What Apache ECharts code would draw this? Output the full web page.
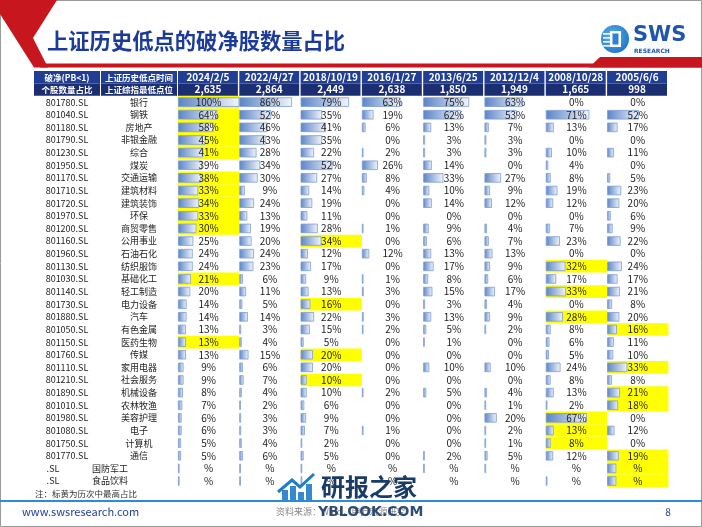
<!DOCTYPE html>
<html><head><meta charset="utf-8">
<script src="https://cdn.jsdelivr.net/npm/echarts@6/dist/echarts.min.js"></script>
<style>html,body{margin:0;padding:0;background:#fff}#c{width:702px;height:527px}</style>
</head><body><div id="c"></div><script>
// ---------- data ----------
const dates = ['2024/2/5','2022/4/27','2018/10/19','2016/1/27','2013/6/25','2012/12/4','2008/10/28','2005/6/6'];
const lowPoints = ['2,635','2,864','2,449','2,638','1,850','1,949','1,665','998'];
const codes = ['801780.SL','801040.SL','801180.SL','801790.SL','801230.SL','801950.SL','801170.SL','801710.SL','801720.SL','801970.SL','801200.SL','801160.SL','801960.SL','801130.SL','801030.SL','801140.SL','801730.SL','801880.SL','801050.SL','801150.SL','801760.SL','801110.SL','801210.SL','801890.SL','801010.SL','801980.SL','801080.SL','801750.SL','801770.SL','.SL','.SL'];
const names = ['银行','钢铁','房地产','非银金融','综合','煤炭','交通运输','建筑材料','建筑装饰','环保','商贸零售','公用事业','石油石化','纺织服饰','基础化工','轻工制造','电力设备','汽车','有色金属','医药生物','传媒','家用电器','社会服务','机械设备','农林牧渔','美容护理','电子','计算机','通信','国防军工','食品饮料'];
// rows whose value text is shown only as "%"
const blankRows = ['国防军工','食品饮料'];
const c20240205 = [100,64,58,45,41,39,38,33,34,33,30,25,24,24,21,20,14,14,13,13,13,9,9,8,7,6,6,5,5,2,2];
const c20220427 = [86,52,46,43,28,34,30,9,24,13,19,20,24,23,6,11,5,14,3,4,15,6,7,4,2,3,3,4,6,2,2];
const c20181019 = [79,35,41,35,22,52,27,14,19,11,28,34,12,17,9,13,16,22,15,5,20,20,10,10,6,9,7,2,5,2,2];
const c20160127 = [63,19,6,0,2,26,8,4,0,0,1,0,12,0,1,3,0,3,2,0,0,0,0,2,0,0,1,0,0,0,0];
const c20130625 = [75,62,13,3,3,14,33,10,14,0,9,6,13,17,8,15,3,13,5,1,0,10,0,5,0,0,0,0,2,2,0];
const c20121204 = [63,53,7,3,3,0,27,9,12,0,4,7,13,9,6,17,4,9,2,0,0,10,0,4,1,20,2,1,5,2,0];
const c20081028 = [0,71,13,0,10,4,8,19,12,0,7,23,0,32,17,33,0,28,8,6,5,24,8,13,2,67,13,8,12,0,2];
const c20050606 = [0,52,17,0,11,0,5,23,20,6,9,22,0,24,17,21,8,20,16,11,10,33,8,21,18,0,12,0,19,15,15];
// column index (0..7) highlighted in yellow for each row, -1 = none
const highlightCol = [0,0,0,0,0,-1,0,0,0,0,0,2,-1,6,0,6,2,6,7,0,2,7,2,7,7,6,6,6,7,7,7];
const titleText = '上证历史低点的破净股数量占比';
const noteText = '注：标黄为历次中最高占比';

// ---------- layout ----------
const cols = [c20240205,c20220427,c20181019,c20160127,c20130625,c20121204,c20081028,c20050606];
const FONT = '"Noto Sans CJK SC","Noto Sans",sans-serif';
const TOP = 95.8, ROWH = 12.63, N = names.length, GH = ROWH * N;
const X0 = 178, CW = 61.3;
const chart = echarts.init(document.getElementById('c'), null, {renderer:'canvas', width:702, height:527});
const grids = [], xAxes = [], yAxes = [], series = [];

cols.forEach((vals, k) => {
  grids.push({left: X0 + k*CW, top: TOP, width: CW, height: GH, containLabel:false, outerBoundsMode:'none'});
  xAxes.push({type:'value', gridIndex:k, min:0, max:100, show:false});
  yAxes.push({type:'category', gridIndex:k, data:names, inverse:true, show:false});
  yAxes.push({type:'category', gridIndex:k, data:names, inverse:true, show:false});
  series.push({type:'bar', xAxisIndex:k, yAxisIndex:2*k, barWidth:'100%', barGap:'-100%', silent:true, z:1,
    itemStyle:{color:'#FFFF00'}, data: highlightCol.map(h => h === k ? 100 : '-')});
  series.push({type:'bar', xAxisIndex:k, yAxisIndex:2*k+1, barWidth:9.5, barMinHeight:1.6, silent:true, z:2,
    itemStyle:{color:new echarts.graphic.LinearGradient(0,0,1,0,[{offset:0,color:'#5A84C7'},{offset:1,color:'#F3F6FC'}]),
      borderColor:'#7E9DD4', borderWidth:0.8},
    data: vals.map(v => v > 0 ? v : '-')});
  series.push({type:'bar', xAxisIndex:k, yAxisIndex:2*k, barWidth:'100%', barGap:'-100%', silent:true, z:3,
    itemStyle:{color:'rgba(0,0,0,0)'},
    label:{show:true, position:'inside', color:'#222', fontSize:10, fontFamily:FONT,
      formatter: p => blankRows.includes(names[p.dataIndex]) ? '%' : vals[p.dataIndex] + '%'},
    data: names.map(() => 100)});
});
// row label axes (codes, names) on first grid
yAxes.push({type:'category', gridIndex:0, data:names, inverse:true, position:'left',
  axisLine:{show:false}, axisTick:{show:false}, splitLine:{show:false},
  axisLabel:{show:true, interval:0, align:'center', margin:111, color:'#222', fontSize:9, fontFamily:FONT,
    formatter:(v,i) => blankRows.includes(v) ? '{s|' + codes[i] + '}' : codes[i],
    rich:{s:{padding:[0,28,0,0], fontSize:9, fontFamily:FONT, color:'#222'}}}});
yAxes.push({type:'category', gridIndex:0, data:names, inverse:true, position:'left',
  axisLine:{show:false}, axisTick:{show:false}, splitLine:{show:false},
  axisLabel:{show:true, interval:0, align:'center', margin:39, color:'#222', fontSize:9, fontFamily:FONT,
    formatter:(v,i) => blankRows.includes(v) ? '{s|' + v + '}' : v,
    rich:{s:{padding:[0,58,0,0], fontSize:9, fontFamily:FONT, color:'#222'}}}});

// ---------- decorations / header ----------
const g = [];
g.push({type:'rect', shape:{x:0.5,y:0.5,width:701,height:526}, style:{fill:'none', stroke:'#9a9a9a', lineWidth:1}, z:0});
g.push({type:'polygon', shape:{points:[[0,0],[57,0],[33,38],[48,67.5],[34,67.5],[14,36],[0,14]]}, style:{fill:'#C8161E'}, z:5});
g.push({type:'rect', shape:{x:40,y:63.5,width:662,height:4}, style:{fill:'#C8161E'}, z:5});
g.push({type:'polygon', shape:{points:[[589,67.5],[600,57],[702,57],[702,67.5]]}, style:{fill:'#C8161E'}, z:5});
g.push({type:'text', style:{text:titleText, x:47, y:41, fill:'#1B3A9A', font:'bold 21.3px ' + FONT, verticalAlign:'middle', align:'left'}, z:5});
// logo
g.push({type:'circle', shape:{cx:615, cy:39, r:14}, style:{fill:new echarts.graphic.RadialGradient(0.4,0.4,0.7,[{offset:0,color:'#5FB6F0'},{offset:1,color:'#1A6FC9'}])}, z:5});
[33,37,41,45].forEach(yy => g.push({type:'rect', shape:{x:603,y:yy,width:8,height:1.6}, style:{fill:'#fff'}, z:6}));
g.push({type:'rect', shape:{x:610,y:31,width:11,height:16}, style:{fill:'#fff'}, z:6});
g.push({type:'rect', shape:{x:612.5,y:33.5,width:6,height:11}, style:{fill:'#2A84D6'}, z:7});
g.push({type:'text', style:{text:'SWS', x:633, y:36, fill:'#1F55AE', font:'bold 21px "DejaVu Sans",sans-serif', verticalAlign:'middle'}, z:5});
g.push({type:'text', style:{text:'RESEARCH', x:634, y:51, fill:'#1F55AE', font:'bold 6px "DejaVu Sans",sans-serif', verticalAlign:'middle'}, z:5});
// header
const hdr = [{x:34, w:66, t1:'破净(PB<1)', t2:'个股数量占比', cjk:true},
             {x:101, w:76, t1:'上证历史低点时间', t2:'上证综指最低点位', cjk:true}];
dates.forEach((d,k) => hdr.push({x:X0 + k*CW, w:CW - 1.4, t1:d, t2:lowPoints[k], cjk:false}));
hdr.forEach(h => {
  g.push({type:'rect', shape:{x:h.x, y:71, width:h.w, height:12.6}, style:{fill:'#213E94'}, z:5});
  g.push({type:'rect', shape:{x:h.x, y:83.6, width:h.w, height:12.2}, style:{fill:'#1B2E71'}, z:5});
  const f = h.cjk ? 'bold 8.5px ' + FONT : 'bold 10px ' + FONT;
  g.push({type:'text', style:{text:h.t1, x:h.x + h.w/2, y:77.3, fill:'#fff', font:f, align:'center', verticalAlign:'middle'}, z:6});
  g.push({type:'text', style:{text:h.t2, x:h.x + h.w/2, y:89.7, fill:'#fff', font:f, align:'center', verticalAlign:'middle'}, z:6});
});
// footnote & footer
g.push({type:'text', style:{text:noteText, x:35, y:493.5, fill:'#333', font:'8.5px ' + FONT, verticalAlign:'middle'}, z:5});
g.push({type:'rect', shape:{x:0, y:500, width:702, height:2}, style:{fill:'#2E8BD8'}, z:5});
g.push({type:'text', style:{text:'www.swsresearch.com', x:22, y:512, fill:'#1F3F99', font:'11px ' + FONT, verticalAlign:'middle'}, z:5});
g.push({type:'text', style:{text:'8', x:668, y:512, fill:'#1F3F99', font:'10px ' + FONT, align:'center', verticalAlign:'middle'}, z:5});
// watermark
g.push({type:'text', style:{text:'资料来源：Wind，申万宏源研究', x:276, y:512, fill:'#888', font:'9px ' + FONT, verticalAlign:'middle'}, z:5});
[[282,490,10],[290,486,14],[298,492,8],[306,484,16]].forEach(b => g.push({type:'rect', shape:{x:b[0], y:b[1], width:6, height:500-b[1]}, style:{fill:'#1E7CCB', opacity:0.9}, z:8}));
g.push({type:'polyline', shape:{points:[[278,492],[292,480],[300,487],[314,474]]}, style:{stroke:'#1E7CCB', lineWidth:3, fill:'none'}, z:8});
g.push({type:'text', style:{text:'研报之家', x:321, y:487, fill:'#1A3A68', font:'bold 24px ' + FONT, verticalAlign:'middle'}, z:8});
g.push({type:'text', style:{text:'YBLOOK.COM', x:318, y:512, fill:'#1A3A68', font:'bold 14px "DejaVu Sans",sans-serif', verticalAlign:'middle', opacity:0.9}, z:8});

chart.setOption({
  animation:false,
  backgroundColor:'#fff',
  grid:grids, xAxis:xAxes, yAxis:yAxes, series:series,
  graphic:g
});
</script></body></html>
